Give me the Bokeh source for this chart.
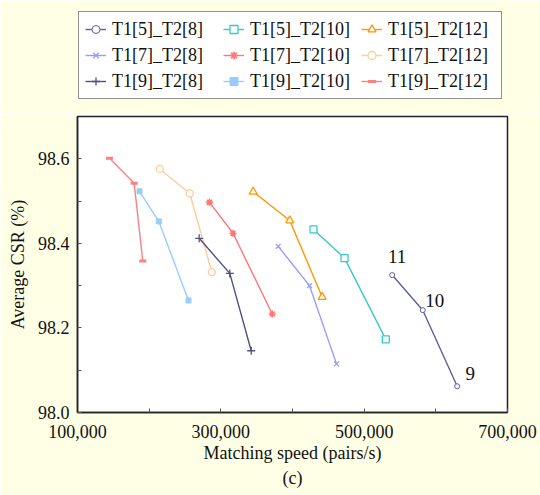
from bokeh.plotting import figure
from bokeh.layouts import column
from bokeh.models import Legend, LegendItem, FixedTicker, NumeralTickFormatter, Title
from bokeh.embed import file_html
from bokeh.resources import INLINE
from bokeh.core.properties import value

# ---- data ----
series_names = ["T1[5]_T2[8]", "T1[5]_T2[10]", "T1[5]_T2[12]",
                "T1[7]_T2[8]", "T1[7]_T2[10]", "T1[7]_T2[12]",
                "T1[9]_T2[8]", "T1[9]_T2[10]", "T1[9]_T2[12]"]

speed_5_8 = [539100, 581800, 629800]
csr_5_8 = [98.325, 98.242, 98.062]
speed_5_10 = [429300, 472600, 530200]
csr_5_10 = [98.433, 98.365, 98.173]
speed_5_12 = [345200, 396200, 441400]
csr_5_12 = [98.522, 98.454, 98.273]
speed_7_8 = [380000, 423700, 461400]
csr_7_8 = [98.393, 98.300, 98.115]
speed_7_10 = [284200, 317000, 371700]
csr_7_10 = [98.497, 98.424, 98.233]
speed_7_12 = [214800, 256700, 287400]
csr_7_12 = [98.576, 98.518, 98.332]
speed_9_8 = [269800, 312500, 342400]
csr_9_8 = [98.412, 98.329, 98.146]
speed_9_10 = [186500, 213400, 254900]
csr_9_10 = [98.523, 98.452, 98.265]
speed_9_12 = [144700, 179100, 191100]
csr_9_12 = [98.601, 98.542, 98.358]

point_labels_5_8 = ["11", "10", "9"]

x_ticks = [100000, 300000, 500000, 700000]
x_minor = [200000, 400000, 600000]
y_ticks = [98.0, 98.2, 98.4, 98.6]
y_minor = [98.1, 98.3, 98.5]

# ---- styling ----
FONT = "Liberation Serif"
BG = "#FFFFE6"
TXT = "#111111"

speeds = [speed_5_8, speed_5_10, speed_5_12, speed_7_8, speed_7_10, speed_7_12,
          speed_9_8, speed_9_10, speed_9_12]
csrs = [csr_5_8, csr_5_10, csr_5_12, csr_7_8, csr_7_10, csr_7_12,
        csr_9_8, csr_9_10, csr_9_12]
styles = [
    dict(color="#5F5F9F", marker="circle", size=5, fill=False, lw=1),
    dict(color="#33CCCC", marker="square", size=7, fill=False, lw=1.3),
    dict(color="#FF9900", marker="triangle", size=8, fill=False, lw=1.3),
    dict(color="#9999FF", marker="x", size=7, fill=False, lw=1.3),
    dict(color="#FF7777", marker="asterisk", size=7, fill=False, lw=1.6),
    dict(color="#FFCC99", marker="circle", size=7, fill=False, lw=1.3),
    dict(color="#50507F", marker="cross", size=8, fill=False, lw=1.3),
    dict(color="#99CCFF", marker="square", size=5, fill=True, lw=1),
    dict(color="#FF7F7F", marker="dash", size=7, fill=False, lw=3),
]

# ---- legend strip (own figure above the plot; its frame aligns with the plot's) ----
lf = figure(width=540, height=114, output_backend="svg", toolbar_location=None,
            x_range=(0, 1), y_range=(0, 1), x_axis_type=None, y_axis_type=None,
            min_border=0, min_border_left=0, min_border_right=0,
            min_border_top=0, min_border_bottom=0)
lf.grid.visible = False
lf.outline_line_color = None
lf.background_fill_color = BG
lf.border_fill_color = BG

items = []
for name, st in zip(series_names, styles):
    # placeholder renderers outside the visible range: only their legend glyphs show
    lr = lf.line([5, 6], [5, 6], line_color=st["color"], line_width=1.4)
    sr = lf.scatter([5], [5], marker=st["marker"], size=st["size"],
                    line_color=st["color"], line_width=st["lw"],
                    fill_color=st["color"] if st["fill"] else "white")
    items.append(LegendItem(label=name, renderers=[lr, sr]))

legend = Legend(items=items, orientation="horizontal", ncols=3, location=(1, 15))
legend.label_text_font = FONT
legend.label_text_font_size = "18px"
legend.label_text_color = TXT
legend.glyph_width = 21
legend.glyph_height = 20
legend.label_height = 22
legend.label_width = 107
legend.label_standoff = 6
legend.spacing = 4
legend.padding = 6
legend.margin = 0
legend.border_line_color = "#222222"
legend.border_line_width = 1.5
legend.background_fill_color = "white"
legend.background_fill_alpha = 1
lf.add_layout(legend, "center")

# ---- main plot ----
p = figure(width=540, height=381, output_backend="svg", toolbar_location=None,
           x_range=(100000, 700000), y_range=(98.0, 98.7),
           min_border_left=77, min_border_right=33, min_border_top=2,
           min_border_bottom=83)
p.border_fill_color = BG
p.background_fill_color = "white"
p.outline_line_color = "#222222"
p.outline_line_width = 1.5
p.grid.visible = False

for xs, ys, st in zip(speeds, csrs, styles):
    p.line(xs, ys, line_color=st["color"], line_width=1.4)
    p.scatter(xs, ys, marker=st["marker"], size=st["size"],
              line_color=st["color"], line_width=st["lw"],
              fill_color=st["color"] if st["fill"] else "white")

# point labels for T1[5]_T2[8]
label_offsets = [(5, -19), (12, -10), (13, -13)]
for xv, yv, t, (dx, dy) in zip(speed_5_8, csr_5_8, point_labels_5_8, label_offsets):
    p.text(x=[xv], y=[yv], text=[t], x_offset=dx, y_offset=dy,
           text_align="center", text_baseline="middle",
           text_font=value(FONT), text_font_size="19px", text_color=TXT)

for ax in (p.xaxis[0], p.yaxis[0]):
    ax.axis_line_color = "#222222"
    ax.axis_line_width = 1.5
    ax.major_tick_in = 4
    ax.major_tick_out = 0
    ax.minor_tick_in = 4
    ax.minor_tick_out = 0
    ax.major_tick_line_color = "#555555"
    ax.minor_tick_line_color = "#555555"
    ax.major_label_text_font = FONT
    ax.major_label_text_font_size = "18px"
    ax.major_label_text_color = TXT
    ax.axis_label_text_font = FONT
    ax.axis_label_text_font_size = "18px"
    ax.axis_label_text_font_style = "normal"
    ax.axis_label_text_color = TXT

p.xaxis.ticker = FixedTicker(ticks=x_ticks, minor_ticks=x_minor)
p.yaxis.ticker = FixedTicker(ticks=y_ticks, minor_ticks=y_minor)
p.xaxis.formatter = NumeralTickFormatter(format="0,0")
p.yaxis.formatter = NumeralTickFormatter(format="0.0")
p.xaxis.axis_label = "Matching speed (pairs/s)"
p.yaxis.axis_label = "Average CSR (%)"
p.xaxis.major_label_standoff = 12
p.xaxis.axis_label_standoff = 2
p.yaxis.major_label_standoff = 8
p.yaxis.axis_label_standoff = 7

cap = Title(text="(c)", align="center", text_font=FONT, text_font_size="18px",
            text_font_style="normal", text_color=TXT, standoff=0)
p.add_layout(cap, "below")

layout = column(lf, p, spacing=0)
html = file_html(layout, INLINE)
html = html.replace("<body>", '<body style="background-color:%s; overflow:hidden;">' % BG, 1)
open("out.html", "w").write(html)
